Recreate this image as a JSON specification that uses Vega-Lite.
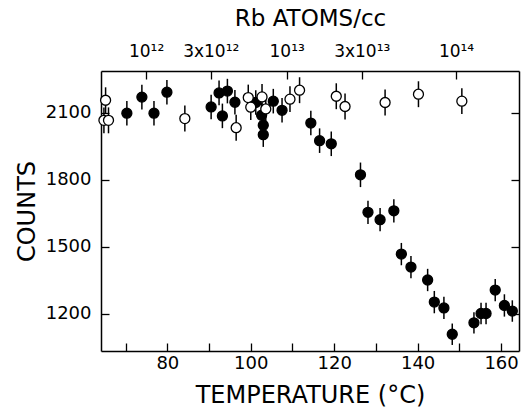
{
 "$schema": "https://vega.github.io/schema/vega-lite/v6.json",
 "width": 418,
 "height": 280,
 "autosize": {"type": "none"},
 "padding": {"left": 101, "top": 71, "right": 9, "bottom": 58},
 "background": "white",
 "config": {
  "view": {"stroke": null},
  "axis": {"domainColor": "black", "domainWidth": 1.5, "tickColor": "black", "tickWidth": 1.3, "labelColor": "black", "titleColor": "black", "labelFont": "DejaVu Sans", "titleFont": "DejaVu Sans", "labelFontWeight": "normal", "titleFontWeight": "normal", "grid": false}
 },
 "data": {"values": [
  {"T": 70.3, "C": 2099, "lo": 2044, "hi": 2154, "type": "filled"},
  {"T": 73.9, "C": 2171, "lo": 2116, "hi": 2226, "type": "filled"},
  {"T": 76.8, "C": 2099, "lo": 2044, "hi": 2154, "type": "filled"},
  {"T": 79.9, "C": 2193, "lo": 2138, "hi": 2248, "type": "filled"},
  {"T": 90.5, "C": 2127, "lo": 2072, "hi": 2182, "type": "filled"},
  {"T": 92.4, "C": 2190, "lo": 2135, "hi": 2245, "type": "filled"},
  {"T": 93.2, "C": 2087, "lo": 2032, "hi": 2142, "type": "filled"},
  {"T": 94.4, "C": 2198, "lo": 2143, "hi": 2253, "type": "filled"},
  {"T": 96.2, "C": 2148, "lo": 2093, "hi": 2203, "type": "filled"},
  {"T": 101.2, "C": 2147, "lo": 2092, "hi": 2202, "type": "filled"},
  {"T": 102.6, "C": 2090, "lo": 2035, "hi": 2145, "type": "filled"},
  {"T": 103.0, "C": 2045, "lo": 1990, "hi": 2100, "type": "filled"},
  {"T": 103.0, "C": 2003, "lo": 1948, "hi": 2058, "type": "filled"},
  {"T": 105.4, "C": 2153, "lo": 2098, "hi": 2208, "type": "filled"},
  {"T": 107.5, "C": 2112, "lo": 2057, "hi": 2167, "type": "filled"},
  {"T": 114.4, "C": 2055, "lo": 2000, "hi": 2110, "type": "filled"},
  {"T": 116.5, "C": 1976, "lo": 1921, "hi": 2031, "type": "filled"},
  {"T": 119.3, "C": 1962, "lo": 1907, "hi": 2017, "type": "filled"},
  {"T": 126.3, "C": 1823, "lo": 1768, "hi": 1878, "type": "filled"},
  {"T": 128.1, "C": 1655, "lo": 1603, "hi": 1707, "type": "filled"},
  {"T": 131.0, "C": 1622, "lo": 1570, "hi": 1674, "type": "filled"},
  {"T": 134.3, "C": 1662, "lo": 1610, "hi": 1714, "type": "filled"},
  {"T": 136.1, "C": 1468, "lo": 1418, "hi": 1518, "type": "filled"},
  {"T": 138.4, "C": 1410, "lo": 1360, "hi": 1460, "type": "filled"},
  {"T": 142.4, "C": 1352, "lo": 1302, "hi": 1402, "type": "filled"},
  {"T": 144.0, "C": 1253, "lo": 1203, "hi": 1303, "type": "filled"},
  {"T": 146.3, "C": 1227, "lo": 1177, "hi": 1277, "type": "filled"},
  {"T": 148.3, "C": 1109, "lo": 1061, "hi": 1157, "type": "filled"},
  {"T": 153.5, "C": 1160, "lo": 1112, "hi": 1208, "type": "filled"},
  {"T": 155.2, "C": 1202, "lo": 1154, "hi": 1250, "type": "filled"},
  {"T": 156.4, "C": 1202, "lo": 1154, "hi": 1250, "type": "filled"},
  {"T": 158.6, "C": 1307, "lo": 1257, "hi": 1357, "type": "filled"},
  {"T": 160.8, "C": 1238, "lo": 1188, "hi": 1288, "type": "filled"},
  {"T": 162.7, "C": 1213, "lo": 1165, "hi": 1261, "type": "filled"},
  {"T": 65.2, "C": 2157, "lo": 2099, "hi": 2215, "type": "open"},
  {"T": 64.8, "C": 2067, "lo": 2009, "hi": 2125, "type": "open"},
  {"T": 65.9, "C": 2067, "lo": 2009, "hi": 2125, "type": "open"},
  {"T": 84.2, "C": 2075, "lo": 2017, "hi": 2133, "type": "open"},
  {"T": 96.5, "C": 2034, "lo": 1976, "hi": 2092, "type": "open"},
  {"T": 99.4, "C": 2169, "lo": 2111, "hi": 2227, "type": "open"},
  {"T": 100.0, "C": 2126, "lo": 2068, "hi": 2184, "type": "open"},
  {"T": 102.7, "C": 2172, "lo": 2114, "hi": 2230, "type": "open"},
  {"T": 103.6, "C": 2118, "lo": 2060, "hi": 2176, "type": "open"},
  {"T": 109.4, "C": 2162, "lo": 2104, "hi": 2220, "type": "open"},
  {"T": 111.7, "C": 2202, "lo": 2144, "hi": 2260, "type": "open"},
  {"T": 120.5, "C": 2175, "lo": 2117, "hi": 2233, "type": "open"},
  {"T": 122.6, "C": 2129, "lo": 2071, "hi": 2187, "type": "open"},
  {"T": 132.2, "C": 2147, "lo": 2089, "hi": 2205, "type": "open"},
  {"T": 140.2, "C": 2184, "lo": 2126, "hi": 2242, "type": "open"},
  {"T": 150.6, "C": 2153, "lo": 2095, "hi": 2211, "type": "open"}
 ]},
 "layer": [
  {
   "mark": {"type": "rule", "strokeWidth": 1.5, "color": "black"},
   "encoding": {
    "x": {"field": "T", "type": "quantitative", "scale": {"domain": [64.1, 164.3], "nice": false, "zero": false},
     "axis": {"orient": "bottom", "values": [70, 80, 90, 100, 110, 120, 130, 140, 150, 160], "tickSize": -8, "labelPadding": 11, "labelFontSize": 18, "labelExpr": "datum.value % 20 == 0 ? datum.label : ''", "title": "TEMPERATURE (°C)", "titleFontSize": 24, "titlePadding": 11}},
    "y": {"field": "lo", "type": "quantitative", "scale": {"domain": [1034, 2288], "nice": false, "zero": false},
     "axis": {"orient": "left", "values": [1200, 1500, 1800, 2100], "format": "d", "tickSize": -8, "labelPadding": 18, "labelFontSize": 18, "title": "COUNTS", "titleFontSize": 24, "titlePadding": 6}},
    "y2": {"field": "hi"}
   }
  },
  {
   "mark": {"type": "point", "shape": "circle", "filled": true, "size": 100, "stroke": "black", "strokeWidth": 1.3, "opacity": 1},
   "encoding": {
    "x": {"field": "T", "type": "quantitative", "scale": {"domain": [64.1, 164.3], "nice": false, "zero": false},
     "axis": {"orient": "top", "values": [74.9, 90.4, 108.6, 126.6, 149.2], "tickSize": -8, "labelPadding": 19, "labelFontSize": 17, "labelExpr": "datum.value < 80 ? '10¹²' : datum.value < 100 ? '3x10¹²' : datum.value < 115 ? '10¹³' : datum.value < 140 ? '3x10¹³' : '10¹⁴'", "title": "Rb ATOMS/cc", "titleFontSize": 23, "titlePadding": 12}},
    "y": {"field": "C", "type": "quantitative", "scale": {"domain": [1034, 2288], "nice": false, "zero": false},
     "axis": {"orient": "right", "values": [1200, 1500, 1800, 2100], "tickSize": -8, "labels": false, "title": null}},
    "fill": {"field": "type", "type": "nominal", "scale": {"domain": ["filled", "open"], "range": ["black", "white"]}, "legend": null}
   }
  }
 ],
 "resolve": {"axis": {"x": "independent", "y": "independent"}}
}
